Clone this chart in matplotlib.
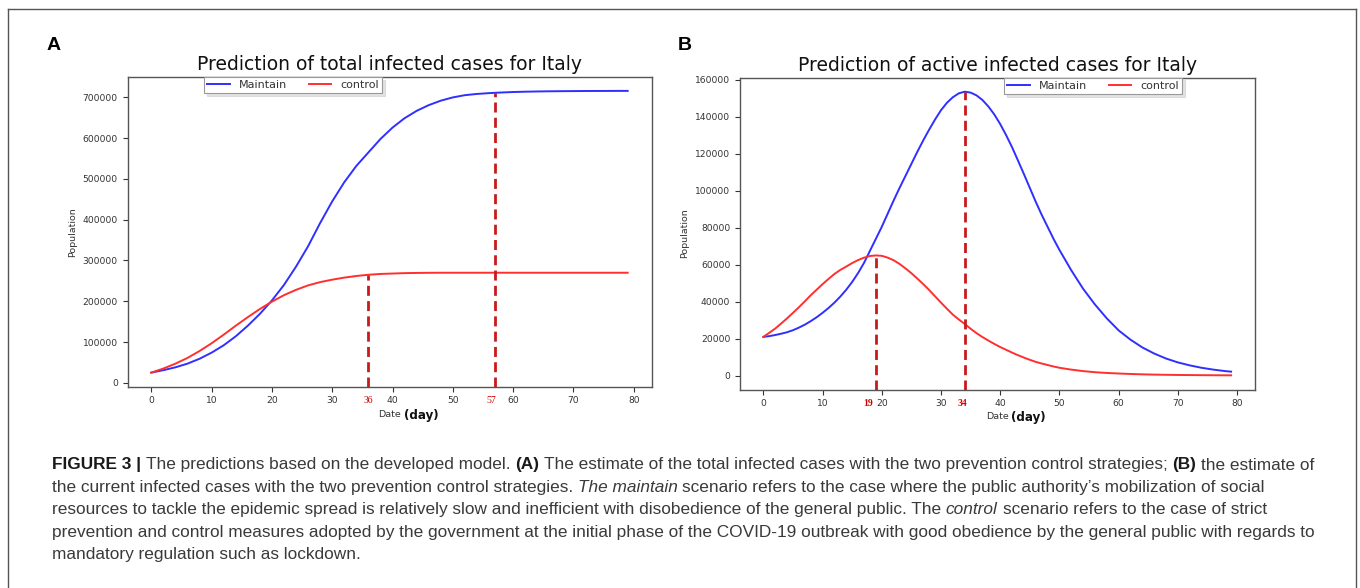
import matplotlib
matplotlib.use("Agg")
import matplotlib.pyplot as plt
from matplotlib.lines import Line2D

W, H, DPI = 1360, 588, 100

# ---------------- data ----------------
total_days = [0, 2, 4, 6, 8, 10, 12, 14, 16, 18, 20, 22, 24, 26, 28, 30, 32, 34, 36, 38,
              40, 42, 44, 46, 48, 50, 52, 54, 56, 58, 60, 62, 64, 66, 68, 70, 72, 74, 76, 78, 79]

total_maintain = [25000, 31000, 38000, 47000, 59000, 74000, 92000, 114000, 140000, 169000,
                  202000, 240000, 285000, 335000, 392000, 445000, 492000, 532000, 565000, 598000,
                  626000, 649000, 667000, 681000, 692000, 700000, 705500, 708500, 710500, 712000,
                  713200, 714000, 714600, 715000, 715300, 715500, 715700, 715800, 715900, 716000, 716000]

total_control = [25000, 35000, 47000, 61000, 78000, 97000, 118000, 140000, 161000, 181000,
                 199000, 215000, 228000, 239000, 247000, 253000, 258000, 262000, 265000, 267000,
                 268000, 269000, 269500, 269800, 270000, 270000, 270000, 270000, 270000, 270000,
                 270000, 270000, 270000, 270000, 270000, 270000, 270000, 270000, 270000, 270000, 270000]

active_days = [0, 1, 2, 3, 4, 5, 6, 7, 8, 9, 10, 11, 12, 13, 14, 15, 16, 17, 18, 19,
               20, 21, 22, 23, 24, 25, 26, 27, 28, 29, 30, 31, 32, 33, 34, 35, 36, 37, 38, 39,
               40, 41, 42, 43, 44, 45, 46, 47, 48, 49, 50,
               52, 54, 56, 58, 60, 62, 64, 66, 68, 70, 72, 74, 76, 78, 79]

active_maintain = [21000, 21400, 22000, 22700, 23500, 24600, 26000, 27600, 29500, 31600,
                   34000, 36600, 39500, 42800, 46500, 50700, 55500, 61000, 67500, 74000,
                   80500, 87600, 94700, 101500, 108000, 114500, 121000, 127200, 133000, 138500,
                   143500, 147500, 150500, 152600, 153500, 153000, 151500, 149000, 145500, 141200,
                   136000, 130000, 123500, 116300, 109000, 101500, 94000, 87000, 80500, 74000, 68000,
                   57000, 47000, 38500, 31000, 24500, 19500, 15300, 12000, 9300, 7200, 5600, 4300,
                   3300, 2500, 2200]

active_control = [21000, 23200, 25500, 28200, 31000, 34000, 37000, 40200, 43500, 46500,
                  49500, 52300, 55000, 57200, 59000, 60900, 62500, 63800, 64700, 65000,
                  64800, 63800, 62400, 60400, 58000, 55400, 52500, 49500, 46300, 42900,
                  39500, 36200, 33000, 30400, 28000, 25400, 23000, 20900, 19000, 17200,
                  15500, 14000, 12500, 11100, 9800, 8600, 7500, 6600, 5800, 5000, 4300,
                  3300, 2500, 1900, 1500, 1200, 950, 750, 600, 500, 420, 350, 300, 260, 230, 220]

total_mark_days = [36, 57]
total_mark_values = [265000, 711000]
active_mark_days = [19, 34]
active_mark_values = [65000, 153500]

xticks = [0, 10, 20, 30, 40, 50, 60, 70, 80]
series_labels = ["Maintain", "control"]
titles = ["Prediction of total infected cases for Italy",
          "Prediction of active infected cases for Italy"]
panel_letters = ["A", "B"]

caption_lines = [
    [("FIGURE 3 |", "b"), ("The predictions based on the developed model.", "n"), ("(A)", "b"),
     ("The estimate of the total infected cases with the two prevention control strategies;", "n"),
     ("(B)", "b"), ("the estimate of", "n")],
    [("the current infected cases with the two prevention control strategies.", "n"),
     ("The maintain", "i"),
     ("scenario refers to the case where the public authority\u2019s mobilization of social", "n")],
    [("resources to tackle the epidemic spread is relatively slow and inefficient with disobedience of the general public. The", "n"),
     ("control", "i"), ("scenario refers to the case of strict", "n")],
    [("prevention and control measures adopted by the government at the initial phase of the COVID-19 outbreak with good obedience by the general public with regards to", "n")],
    [("mandatory regulation such as lockdown.", "n")],
]

# ---------------- styling ----------------
BLUE = "#2f2fff"
RED = "#ff2f2f"
DRED = "#c91a1a"
TICK_FS = 6.6
plt.rcParams["font.family"] = ["DejaVu Sans"]

fig = plt.figure(figsize=(W / DPI, H / DPI), dpi=DPI)
fig.patch.set_facecolor("white")


def fx(px):
    return px / W


def fy(py):
    return 1 - py / H


# outer frame
for xs, ys in [([8, 8], [9, 600]), ([8, 1356], [9, 9]), ([1356, 1356], [9, 600])]:
    fig.add_artist(Line2D([fx(x) for x in xs], [fy(y) for y in ys], color="#555555",
                          lw=1.0, transform=fig.transFigure))

axA = fig.add_axes([127.5 / W, (H - 386.7) / H, 524 / W, 309.9 / H])
axB = fig.add_axes([740 / W, (H - 389.5) / H, 514.5 / W, 312 / H])

panels = [
    (axA, total_days, total_maintain, total_control, total_mark_days, total_mark_values, 0.316,
     [0.0, -3.0], "normal"),
    (axB, active_days, active_maintain, active_control, active_mark_days, active_mark_values,
     0.686, [-5.5, -1.5], "bold"),
]

for i, (ax, dd, ym, yc, mdays, mvals, legx, dxs, mweight) in enumerate(panels):
    ax.plot(dd, ym, color=BLUE, lw=1.4, label=series_labels[0], solid_joinstyle="round")
    ax.plot(dd, yc, color=RED, lw=1.4, label=series_labels[1], solid_joinstyle="round")
    lo, hi = ax.get_ylim()
    for d, v in zip(mdays, mvals):
        ax.plot([d, d], [lo, v], color=DRED, lw=2.0, dashes=(3.6, 1.9))
    ax.set_ylim(lo, hi)
    ax.set_xticks(xticks)
    ax.ticklabel_format(axis="y", style="plain", useOffset=False)
    ax.tick_params(labelsize=TICK_FS, colors="#333333", length=3.5, width=0.8)
    for sp in ax.spines.values():
        sp.set_color("#555555")
        sp.set_linewidth(1.0)
    ax.set_title(titles[i], fontsize=13.5, pad=5, color="#111111")
    ax.set_ylabel("Population", fontsize=6.8, color="#333333")
    ax.set_xlabel("Date", fontsize=6.8, color="#333333", labelpad=3)
    ax.annotate("(day)", xy=(1, 0), xycoords=ax.xaxis.label, xytext=(2, 0),
                textcoords="offset points", ha="left", va="baseline",
                fontsize=8.6, fontweight="bold", color="#111111")
    for d, dx in zip(mdays, dxs):
        ax.annotate(str(d), xy=(d, 0), xycoords=("data", "axes fraction"),
                    xytext=(dx, -7.0), textcoords="offset points", ha="center", va="top",
                    fontsize=7, color="#d00000", family=["Liberation Serif", "DejaVu Serif"],
                    fontweight=mweight)
    leg = ax.legend(loc="upper center", bbox_to_anchor=(legx, 1.0), ncol=2, fontsize=8,
                    frameon=True, shadow={"color": "#c8c8c8"}, fancybox=False,
                    borderaxespad=0.0, borderpad=0.3, handlelength=2.0, columnspacing=2.0)
    leg.get_frame().set_edgecolor("#999999")
    leg.get_frame().set_linewidth(0.8)
    for t in leg.get_texts():
        t.set_color("#333333")

# panel letters
fig.text(fx(47), fy(50), panel_letters[0], fontsize=14, fontweight="bold",
         family=["Liberation Sans", "DejaVu Sans"], va="baseline", ha="left")
fig.text(fx(678), fy(50), panel_letters[1], fontsize=14, fontweight="bold",
         family=["Liberation Sans", "DejaVu Sans"], va="baseline", ha="left")

# caption with mixed styles
renderer = fig.canvas.get_renderer()
CAP_FS = 12.4
CAP_FAM = ["Liberation Sans", "DejaVu Sans"]
styles = {
    "n": dict(fontweight="normal", fontstyle="normal", color="#3a3a3a"),
    "b": dict(fontweight="bold", fontstyle="normal", color="#1a1a1a"),
    "i": dict(fontweight="normal", fontstyle="italic", color="#3a3a3a"),
}


def space_width(style):
    a = fig.text(0, 0, "x x", fontsize=CAP_FS, family=CAP_FAM, **styles[style])
    b = fig.text(0, 0, "xx", fontsize=CAP_FS, family=CAP_FAM, **styles[style])
    w = a.get_window_extent(renderer).width - b.get_window_extent(renderer).width
    a.remove()
    b.remove()
    return w


sp_w = {k: space_width(k) for k in styles}
baseline0, line_gap = 469.5, 22.4
for li, segs in enumerate(caption_lines):
    x = 52.0
    y = baseline0 + li * line_gap
    for si, (txt, st) in enumerate(segs):
        t = fig.text(fx(x), fy(y), txt, fontsize=CAP_FS, family=CAP_FAM, va="baseline",
                     ha="left", **styles[st])
        bb = t.get_window_extent(renderer)
        x = bb.x1 + sp_w["n"]

fig.savefig("out.png", dpi=DPI, facecolor="white")
